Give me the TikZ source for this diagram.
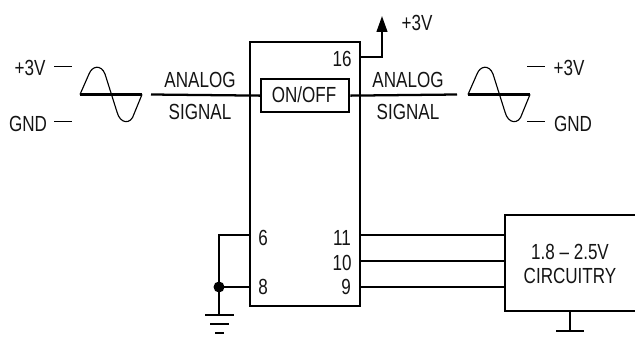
\documentclass[tikz,border=0pt]{standalone}
\usepackage{fontspec}
\setmainfont[FakeStretch=0.78]{Liberation Sans}
\usetikzlibrary{arrows.meta}
\tikzset{
  wire/.style={line width=1.7pt,line cap=butt},
  thinw/.style={line width=0.75pt},
  wave/.style={line width=0.85pt},
  lbl/.style={inner sep=0pt,font=\fontsize{16.4}{18}\selectfont,text=black!92},
  box/.style={draw,line width=1.7pt,inner sep=0pt,anchor=north west},
}
\begin{document}
\begin{tikzpicture}[x=0.75pt,y=-0.75pt]
\useasboundingbox (0,0) rectangle (635,338);
% IC
\node[box,minimum width=82.5pt,minimum height=198pt] (ic) at (249,41) {};
\node[box,minimum width=66pt,minimum height=24.75pt,fill=white] (sw) at (260,78) {};
\node[lbl] (swl) at (304,95) {ON/OFF};
% Circuitry
\node[box,minimum width=110pt,minimum height=72pt] (cir) at (504,214) {};
\node[lbl] (c1) at (570,252) {1.8 – 2.5V};
\node[lbl] (c2) at (570,276) {CIRCUITRY};
% pin numbers
\node[lbl] (p16) at (342,59) {16};
\node[lbl] (p6) at (263,238) {6};
\node[lbl] (p8) at (263,287) {8};
\node[lbl] (p11) at (342,238) {11};
\node[lbl] (p10) at (342,263) {10};
\node[lbl] (p9) at (346,287) {9};
% analog signals
\node[lbl] (al) at (200,79.5) {ANALOG};
\node[lbl] (sl) at (200,111.5) {SIGNAL};
\node[lbl] (ar) at (408,79.5) {ANALOG};
\node[lbl] (sr) at (408,111.5) {SIGNAL};
\coordinate (inl) at (151,94.5);
\coordinate (outr) at (457,94.5);
\draw[wire] (inl) -- (sw.west);
\draw[wire] (sw.east) -- (outr);
% left waveform
\coordinate (wl1) at (80,94.5);
\coordinate (wl2) at (142,94.5);
\draw[wire] (wl1) -- (wl2);
\draw[wave] (wl1) -- (89,74) .. controls (92,66) and (101,64) .. (105,74) -- (117,112)
  .. controls (120,124) and (131,125) .. (134,114) -- (wl2);
% right waveform
\coordinate (wr1) at (468,94.5);
\coordinate (wr2) at (530,94.5);
\draw[wire] (wr1) -- (wr2);
\draw[wave] (wr1) -- (477,74) .. controls (480,66) and (489,64) .. (493,74) -- (505,112)
  .. controls (508,124) and (519,125) .. (522,114) -- (wr2);
% level labels
\node[lbl] (lv) at (30,68) {+3V};
\node[lbl] (lg) at (28,123.5) {GND};
\node[lbl] (rv) at (569,68) {+3V};
\node[lbl] (rg) at (573,123.5) {GND};
\coordinate (t1a) at (54,67); \coordinate (t1b) at (72,67);
\coordinate (t2a) at (54,122); \coordinate (t2b) at (72,122);
\coordinate (t3a) at (527,67); \coordinate (t3b) at (545,67);
\coordinate (t4a) at (527,122); \coordinate (t4b) at (545,122);
\draw[thinw] (t1a)--(t1b) (t2a)--(t2b) (t3a)--(t3b) (t4a)--(t4b);
% supply arrow
\coordinate (pin16) at (359,57);
\coordinate (sup) at (382,16);
\draw[wire,-{Triangle[length=12pt,width=8pt]}] (pin16) -| (sup);
\node[lbl] (sv) at (417,23) {+3V};
% ground pins
\coordinate (pin6) at (249,235);
\coordinate (pin8) at (249,287);
\coordinate (j6) at (219,235);
\coordinate (j8) at (219,287);
\coordinate (g1) at (219,315);
\draw[wire] (pin6) -- (j6) -- (g1);
\draw[wire] (pin8) -- (j8);
\fill (j8) circle (5.5);
\draw[wire] (205,315) -- (234,315) (210,324) -- (229,324) (215,333) -- (224,333);
% bus
\coordinate (b11) at (359,235); \coordinate (b10) at (359,261); \coordinate (b9) at (359,287);
\coordinate (c11) at (504,235); \coordinate (c10) at (504,261); \coordinate (c9) at (504,287);
\draw[wire] (b11) -- (c11) (b10) -- (c10) (b9) -- (c9);
% circuitry ground
\coordinate (cg) at (570,331);
\draw[wire] (570,310) -- (cg);
\draw[wire] (556,331) -- (584,331);
\end{tikzpicture}
\end{document}
